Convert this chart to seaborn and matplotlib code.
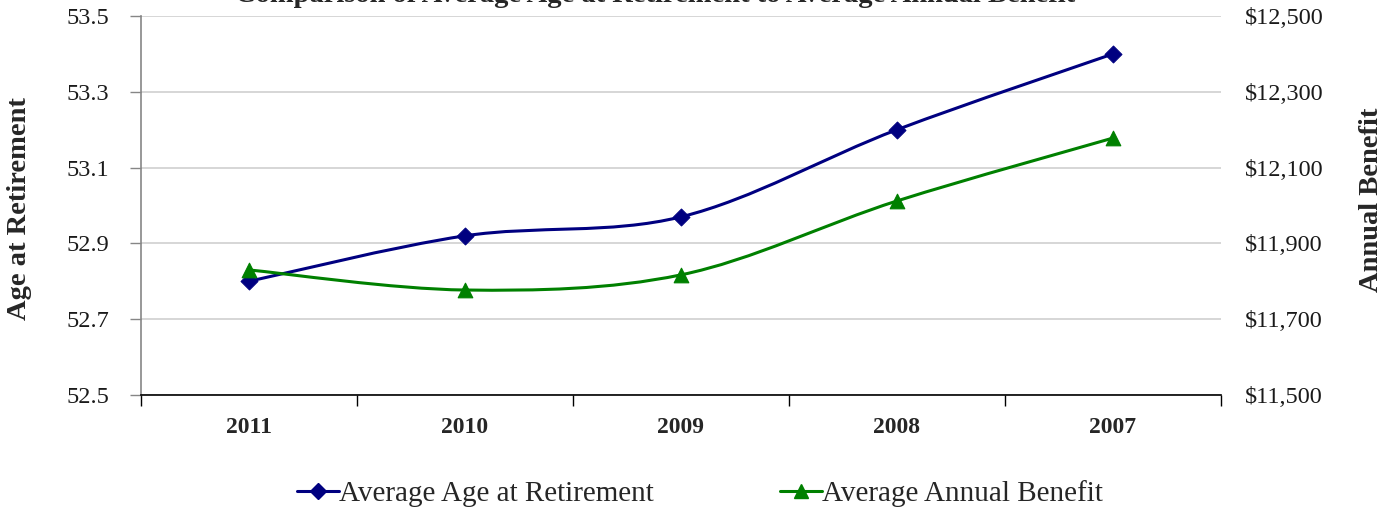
import numpy as np
import matplotlib
matplotlib.use("Agg")
import matplotlib.pyplot as plt
from matplotlib.path import Path
from matplotlib.patches import PathPatch
from matplotlib.lines import Line2D
from matplotlib.ticker import FuncFormatter
import seaborn as sns
import pandas as pd

years = ["2011", "2010", "2009", "2008", "2007"]
avg_age = [52.80, 52.92, 52.97, 53.20, 53.40]
avg_benefit = [11830, 11777, 11817, 12012, 12178]
age_ticks = [52.5, 52.7, 52.9, 53.1, 53.3, 53.5]
benefit_ticks = [11500, 11700, 11900, 12100, 12300, 12500]

title = "Comparison of Average Age at Retirement to Average Annual Benefit"
label_age = "Average Age at Retirement"
label_ben = "Average Annual Benefit"

sns.set_theme(style="white")
plt.rcParams["font.family"] = ["Liberation Serif", "DejaVu Serif"]

BLUE = "#000080"
GREEN = "#008000"
GRID = "#cfcfcf"
SPINE = "#868686"

fig = plt.figure(figsize=(14, 5.09), dpi=100)
ax = fig.add_axes([141/1400, 1-395/509, (1221-141)/1400, (395-16)/509])
ax2 = ax.twinx()

xpos = np.arange(len(years)) + 0.5
df = pd.DataFrame({"x": xpos, "age": avg_age, "ben": avg_benefit})


def smooth_patch(axis, xs, ys, color):
    xs = np.asarray(xs, float)
    ys = np.asarray(ys, float)
    n = len(xs)
    px = np.concatenate([[xs[0]], xs, [xs[-1]]])
    py = np.concatenate([[ys[0]], ys, [ys[-1]]])
    verts = [(xs[0], ys[0])]
    codes = [Path.MOVETO]
    for i in range(n - 1):
        j = i + 1
        c1 = (px[j] + (px[j+1] - px[j-1]) / 6, py[j] + (py[j+1] - py[j-1]) / 6)
        c2 = (px[j+1] - (px[j+2] - px[j]) / 6, py[j+1] - (py[j+2] - py[j]) / 6)
        verts += [c1, c2, (px[j+1], py[j+1])]
        codes += [Path.CURVE4] * 3
    patch = PathPatch(Path(verts, codes), facecolor="none", edgecolor=color,
                      lw=2.2, zorder=3, transform=axis.transData)
    axis.add_patch(patch)


smooth_patch(ax, xpos, avg_age, BLUE)
sns.scatterplot(data=df, x="x", y="age", ax=ax, marker="D", s=75, color=BLUE,
                edgecolor=BLUE, zorder=4, legend=False)
smooth_patch(ax2, xpos, avg_benefit, GREEN)
sns.scatterplot(data=df, x="x", y="ben", ax=ax2, marker="^", s=110, color=GREEN,
                edgecolor=GREEN, zorder=4, legend=False)

ax.set_xlim(0, len(years))
ax.set_ylim(age_ticks[0], age_ticks[-1])
ax2.set_ylim(benefit_ticks[0], benefit_ticks[-1])
ax.set_yticks(age_ticks)
ax.set_yticklabels([f"{v:.1f}" for v in age_ticks])
ax2.set_yticks(benefit_ticks)
ax2.yaxis.set_major_formatter(FuncFormatter(lambda v, p: f"${v:,.0f}"))

ax.set_xticks(xpos)
ax.set_xticklabels(years, fontweight="bold", fontsize=17)
ax.set_xticks(np.arange(len(years) + 1), minor=True)
ax.tick_params(axis="x", which="major", length=0, pad=16)
ax.tick_params(axis="x", which="minor", length=8, width=1, color="black",
               direction="out", bottom=True)
ax.tick_params(axis="y", which="major", length=8, width=1, color=SPINE,
               direction="out", left=True, labelsize=17.5, pad=15, labelcolor="#1a1a1a")
ax2.tick_params(axis="y", length=0, labelsize=17.5, pad=17, labelcolor="#1a1a1a")
ax.set_xlabel("")
ax.set_ylabel("")
ax2.set_ylabel("")

ax.yaxis.grid(True, color=GRID, lw=1.2)
ax.set_axisbelow(True)
for a in (ax, ax2):
    for s in ("top", "right", "left", "bottom"):
        a.spines[s].set_visible(False)
ax.spines["left"].set_visible(True)
ax.spines["left"].set_color(SPINE)
ax.spines["left"].set_linewidth(1.2)
ax.spines["bottom"].set_visible(True)
ax.spines["bottom"].set_color("black")
ax.spines["bottom"].set_linewidth(1.2)

fig.text(20/1400, 0.591, "Age at Retirement", rotation=90, ha="center", va="center",
         fontsize=20.5, fontweight="bold")
fig.text(1372/1400, 0.607, "Annual Benefit", rotation=90, ha="center", va="center",
         fontsize=20.5, fontweight="bold")
fig.text(655/1400, 1 - 1.5/509, title, ha="center", va="baseline",
         fontsize=20.5, fontweight="bold")

handles = [
    Line2D([], [], color=BLUE, lw=2.2, marker="D", markersize=8),
    Line2D([], [], color=GREEN, lw=2.2, marker="^", markersize=10),
]
fig.legend(handles, [label_age, label_ben], loc="center", bbox_to_anchor=(0.5, 0.03),
           ncol=2, frameon=False, fontsize=21, handlelength=1.45, handletextpad=0.0,
           columnspacing=4.3)

fig.savefig("out.png", dpi=100)
